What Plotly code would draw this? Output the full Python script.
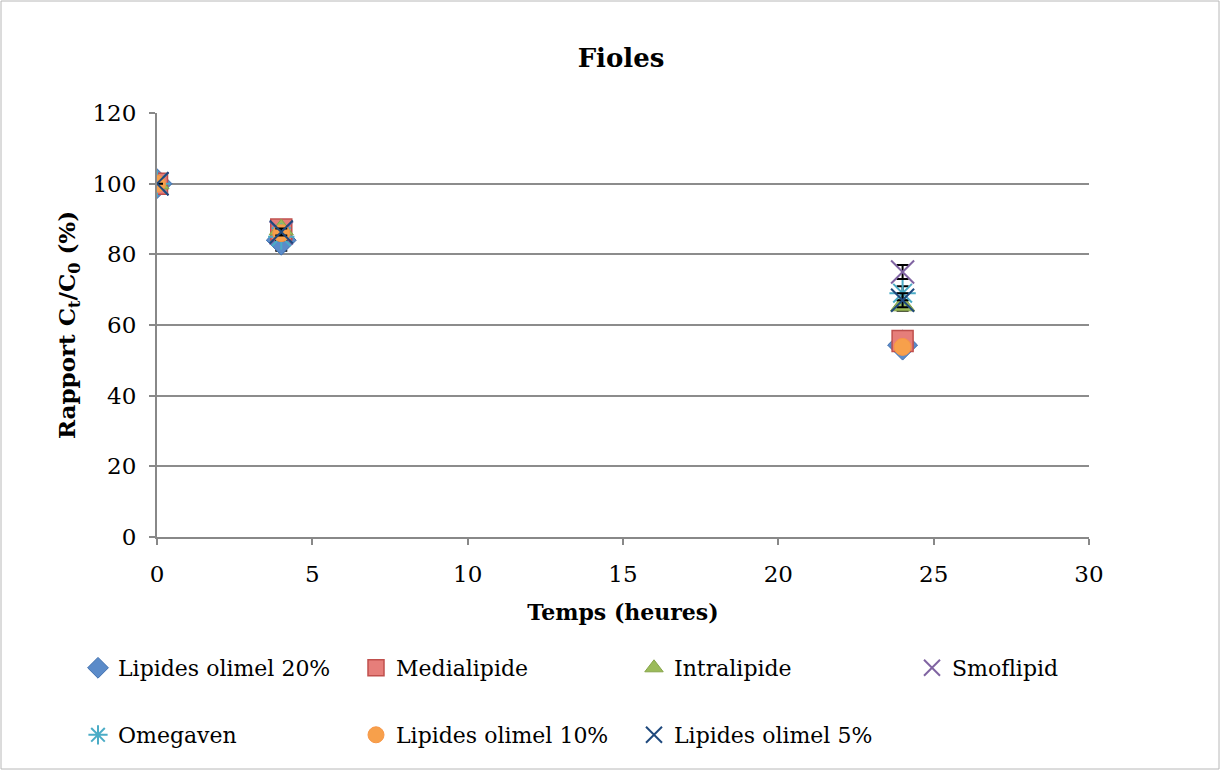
import plotly.graph_objects as go

times = [0, 4, 24]
series_names = ["Lipides olimel 20%", "Medialipide", "Intralipide", "Smoflipid",
                "Omegaven", "Lipides olimel 10%", "Lipides olimel 5%"]
olimel20 = [100, 84, 54.3]
medialipide = [100, 87, 55.5]
intralipide = [100, 87, 65.5]
smoflipid = [100, 86, 75]
omegaven = [100, 85, 69]
olimel10 = [100, 86, 53.8]
olimel5 = [100, 86.3, 67]

err_olimel20 = [None, 3, 1]
err_medialipide = [None, 1, 1]
err_intralipide = [None, 1, 1.5]
err_smoflipid = [None, 1, 2]
err_omegaven = [None, 1, 2]
err_olimel10 = [None, 1, 1]
err_olimel5 = [None, 1, 2]

values = [olimel20, medialipide, intralipide, smoflipid, omegaven, olimel10, olimel5]
errors = [err_olimel20, err_medialipide, err_intralipide, err_smoflipid,
          err_omegaven, err_olimel10, err_olimel5]

styles = [
    dict(symbol="diamond", color="#5B8BC9", size=23, line=dict(color="#3F6FAE", width=1)),
    dict(symbol="square", color="#E67E7A", size=21, line=dict(color="#C0504D", width=1.5)),
    dict(symbol="triangle-up", color="#9BBB59", size=21, line=dict(color="#86A44A", width=1)),
    dict(symbol="x-thin-open", color="#8064A2", size=23, line=dict(color="#8064A2", width=2)),
    dict(symbol="asterisk-open", color="#4BACC6", size=22, line=dict(color="#4BACC6", width=2)),
    dict(symbol="circle", color="#F7A04B", size=17, line=dict(color="#F79646", width=1)),
    dict(symbol="x-thin-open", color="#1F497D", size=23, line=dict(color="#1F497D", width=2)),
]
legend_ids = ["legend", "legend", "legend2", "legend2", "legend3", "legend3", "legend4"]

FONT = "DejaVu Serif"
fig = go.Figure()
for name, vals, errs, st, lg in zip(series_names, values, errors, styles, legend_ids):
    fig.add_trace(go.Scatter(
        x=times, y=vals, mode="markers", name=name,
        marker=st,
        error_y=dict(type="data", array=errs, visible=True, color="black", thickness=2, width=6),
        legend=lg,
    ))

# outer frame
L, R, T, B = 157, 1089, 113, 537
W, H = 1221, 771
pw, ph = R - L, B - T
fig.add_shape(type="rect", xref="paper", yref="paper",
              x0=(1 - L) / pw, x1=(W - 2 - L) / pw,
              y0=(B - (H - 2)) / ph, y1=(B - 1) / ph,
              line=dict(color="#B8B8B8", width=1), layer="below")

legend_common = dict(orientation="h", entrywidth=233, entrywidthmode="pixels",
                     font=dict(family=FONT, size=22, color="black"),
                     xanchor="left", yanchor="middle", bgcolor="rgba(0,0,0,0)",
                     itemwidth=30)
col1 = (78 - L) / pw
col3 = (634 - L) / pw
row1 = (B - 668) / ph
row2 = (B - 735) / ph
fig.update_layout(
    width=W, height=H,
    margin=dict(l=L, r=W - R, t=T, b=H - B),
    paper_bgcolor="white", plot_bgcolor="white",
    title=dict(text="<b>Fioles</b>", x=621 / W, xanchor="center",
               y=1 - 58 / H, yanchor="middle", yref="container",
               font=dict(family=FONT, size=26, color="black")),
    xaxis=dict(range=[0, 30], dtick=5, showgrid=False, showline=True, linecolor="#888888",
               linewidth=2, ticks="outside", ticklen=6, tickcolor="#888888", tickwidth=2,
               zeroline=False, ticklabelstandoff=9,
               tickfont=dict(family=FONT, size=23, color="black"),
               title=dict(text="<b>Temps (heures)</b>", standoff=19,
                          font=dict(family=FONT, size=22, color="black"))),
    yaxis=dict(range=[0, 120], dtick=20, showgrid=True, gridcolor="#8C8C8C", gridwidth=2,
               showline=True, linecolor="#888888", linewidth=2, ticks="outside", ticklen=6,
               tickcolor="#888888", tickwidth=2, zeroline=False, ticklabelstandoff=8,
               tickfont=dict(family=FONT, size=23, color="black"),
               title=dict(text="<b>Rapport C<sub>t</sub>/C<sub>0</sub> (%)</b>", standoff=10,
                          font=dict(family=FONT, size=23, color="black"))),
    legend=dict(x=col1, y=row1, **legend_common),
    legend2=dict(x=col3, y=row1, **legend_common),
    legend3=dict(x=col1, y=row2, **legend_common),
    legend4=dict(x=col3, y=row2, **legend_common),
    showlegend=True,
)
fig.write_html("out.html", config={"displayModeBar": False},
               post_script="document.body.style.margin='0';")
